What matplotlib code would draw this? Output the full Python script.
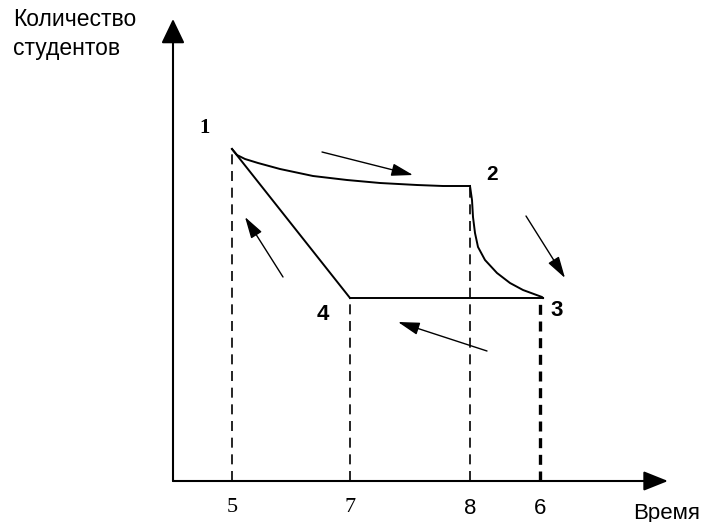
import matplotlib
matplotlib.use('Agg')
import matplotlib.pyplot as plt

# coordinates measured from the axis origin (pixels of the reference, y up)
point_names = ['1', '2', '3', '4']
point_x = [59, 297, 370, 177]
point_y = [332, 295, 183, 183]

# curve 1 -> 2
curve12_x = [59, 64, 72, 85, 107, 140, 174, 207, 244, 270, 297]
curve12_y = [332, 326, 322, 318, 312, 305, 301, 298, 296, 295, 295]
# curve 2 -> 3
curve23_x = [297, 299, 300, 302, 305, 312, 324, 337, 350, 369, 370]
curve23_y = [295, 281, 264, 248, 234, 221, 208, 198, 191, 184, 183]

# time moments on the x axis
time_labels = ['5', '7', '8', '6']
time_x = [59, 177, 297, 367]
time_top = [332, 183, 295, 183]

# direction arrows: (tail x, tail y, head x, head y)
dir_arrows = [(149, 329, 240, 306),
              (353, 265, 392, 203),
              (314, 130, 225, 159),
              (110, 204, 72, 264)]

fig = plt.figure(figsize=(7.04, 5.22), dpi=100)
ax = fig.add_axes([0, 0, 1, 1])
ax.set_xlim(-173, 704 - 173)
ax.set_ylim(-(522 - 481), 481)
ax.axis('off')

# axes with arrows
ax.annotate('', xy=(0, 462), xytext=(0, 0),
            arrowprops=dict(arrowstyle='-|>,head_length=0.75,head_width=0.36',
                            mutation_scale=20, lw=1.5, color='black',
                            shrinkA=0, shrinkB=0))
ax.annotate('', xy=(495, 0), xytext=(0, 0),
            arrowprops=dict(arrowstyle='-|>,head_length=0.75,head_width=0.3',
                            mutation_scale=20, lw=1.5, color='black',
                            shrinkA=0, shrinkB=0))

# dashed verticals
for i, (x, top) in enumerate(zip(time_x, time_top)):
    if i == 3:
        ax.plot([x, x], [0, top], color='black', lw=2.4, ls=(0, (3, 2)))
    else:
        ax.plot([x, x], [0, top], color='black', lw=1.2, ls=(0, (6, 4)))

# graph
ax.plot(curve12_x, curve12_y, color='black', lw=1.4)
ax.plot(curve23_x, curve23_y, color='black', lw=1.4)
ax.plot([point_x[0], point_x[3]], [point_y[0], point_y[3]], color='black', lw=1.4)
ax.plot([point_x[3], point_x[2]], [point_y[3], point_y[2]], color='black', lw=1.4)

# direction arrows
for tx, ty, hx, hy in dir_arrows:
    ax.annotate('', xy=(hx, hy), xytext=(tx, ty),
                arrowprops=dict(arrowstyle='-|>,head_length=1.2,head_width=0.35',
                                mutation_scale=11, lw=1.0, color='black',
                                shrinkA=0, shrinkB=0))

# point labels
label_pos = {'1': (32, 353), '2': (319, 306), '3': (384, 171), '4': (150, 166)}
label_font = {'1': ('Liberation Serif', 15), '2': ('Liberation Sans', 15),
              '3': ('Liberation Sans', 16), '4': ('Liberation Sans', 16)}
for name in point_names:
    lx, ly = label_pos[name]
    fam, fs = label_font[name]
    ax.text(lx, ly, name, ha='center', va='center', fontsize=fs,
            fontweight='bold', family=fam)

# tick labels
for i, (lab, x) in enumerate(zip(time_labels, time_x)):
    fam = 'Liberation Serif' if i < 2 else 'Liberation Sans'
    ax.text(x, -27, lab, ha='center', va='center', fontsize=16, family=fam)

ax.text(700 - 173, -32, 'Время', ha='right', va='center', fontsize=16,
        family='Liberation Sans')
ax.text(-160, 461, 'Количество', ha='left', va='center', fontsize=16.5,
        family='Liberation Sans')
ax.text(-160, 433, 'студентов', ha='left', va='center', fontsize=16.5,
        family='Liberation Sans')

fig.savefig('out.png', dpi=100)
